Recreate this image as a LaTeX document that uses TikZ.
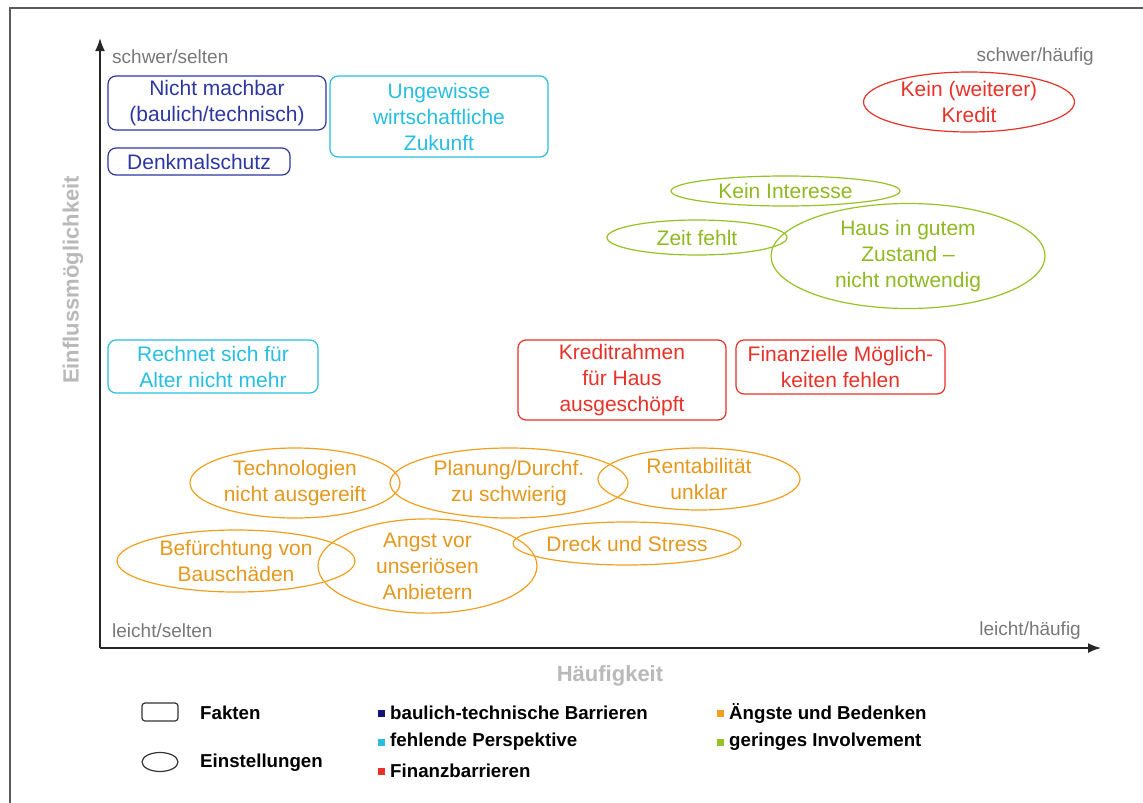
\documentclass[tikz,border=0pt]{standalone}
\usepackage{fontspec}
\setmainfont{Liberation Sans}
\usetikzlibrary{shapes.geometric,arrows.meta}
\definecolor{cnavy}{RGB}{45,55,160}
\definecolor{cnavysq}{RGB}{20,20,120}
\definecolor{ccyan}{RGB}{40,190,225}
\definecolor{cred}{RGB}{230,50,40}
\definecolor{corange}{RGB}{240,160,30}
\definecolor{cgreen}{RGB}{150,195,35}
\definecolor{cgray}{RGB}{120,120,120}
\definecolor{clight}{RGB}{185,185,185}
\definecolor{cframe}{RGB}{90,90,90}
\begin{document}
\begin{tikzpicture}[x=1pt,y=-1pt,
  fact/.style={draw, rounded corners=8pt, line width=1.2pt, align=center, inner sep=0pt,
    font=\fontsize{21}{26}\selectfont},
  attit/.style={draw, ellipse, line width=1.2pt, align=center, inner sep=0pt,
    font=\fontsize{21}{26}\selectfont},
  corner/.style={text=cgray, inner sep=0pt, font=\fontsize{19}{22}\selectfont},
  axlabel/.style={text=clight, inner sep=0pt, font=\fontsize{22}{26}\selectfont\bfseries},
  legtext/.style={anchor=west, inner sep=0pt, font=\fontsize{18.7}{22}\selectfont\bfseries},
  legsq/.style={minimum size=7pt, inner sep=0pt},
  axisline/.style={line width=1.8pt, black!85, -{Latex[length=13pt,width=10pt]}},
  navyc/.style={draw=cnavy, text=cnavy},
  cyanc/.style={draw=ccyan, text=ccyan},
  redc/.style={draw=cred, text=cred},
  orangec/.style={draw=corange, text=corange!95!black},
  greenc/.style={draw=cgreen, text=cgreen!95!black}
]
\useasboundingbox (0,0) rectangle (1143,803);
\fill[white] (0,0) rectangle (1143,803);
\draw[cframe, line width=1.5pt] (10,8) rectangle (1170,830);

% axes
\coordinate (O) at (100,648);
\coordinate (ytop) at (100,38);
\coordinate (xend) at (1101,648);
\draw[axisline] (O) -- (ytop);
\draw[axisline] (O) -- (xend);

% corner labels
\node[corner, anchor=west] (c1) at (112,57) {schwer/selten};
\node[corner, anchor=east] (c2) at (1094,57) {schwer/häufig};
\node[corner, anchor=west] (c3) at (112,631) {leicht/selten};
\node[corner, anchor=east] (c4) at (1081,631) {leicht/häufig};

% axis labels
\node[axlabel, rotate=90] (ylab) at (73,280) {Einflussmöglichkeit};
\node[axlabel] (xlab) at (610,676) {Häufigkeit};

% facts (rounded rectangles)
\node[fact, navyc, minimum width=218pt, minimum height=54pt] (nm) at (217,103) {Nicht machbar\\(baulich/technisch)};
\node[fact, navyc, minimum width=182pt, minimum height=27pt] (dm) at (199,161.5) {Denkmalschutz};
\node[fact, cyanc, minimum width=218pt, minimum height=81pt] (uw) at (439,116.5) {Ungewisse\\wirtschaftliche\\Zukunft};
\node[fact, cyanc, minimum width=210pt, minimum height=53pt] (rs) at (213,366.5) {Rechnet sich für\\Alter nicht mehr};
\node[fact, redc, minimum width=208pt, minimum height=80pt] (kr) at (622,380) {Kreditrahmen\\für Haus\\ausgeschöpft};
\node[fact, redc, minimum width=209pt, minimum height=54pt] (fm) at (840.5,367) {Finanzielle Möglich-\\keiten fehlen};

% attitudes (ellipses)
\node[attit, redc, minimum width=211pt, minimum height=60pt] (kk) at (969,102) {Kein (weiterer)\\Kredit};
\node[attit, greenc, minimum width=229pt, minimum height=30pt] (ki) at (785.5,191) {Kein Interesse};
\node[attit, greenc, minimum width=180pt, minimum height=35pt] (zf) at (697,237.5) {Zeit fehlt};
\node[attit, greenc, minimum width=274pt, minimum height=105pt] (hz) at (908,256) {Haus in gutem\\Zustand --\\nicht notwendig};
\node[attit, orangec, minimum width=210pt, minimum height=70pt] (tn) at (295,483) {Technologien\\nicht ausgereift};
\node[attit, orangec, minimum width=238pt, minimum height=70pt] (pd) at (509,483) {Planung/Durchf.\\zu schwierig};
\node[attit, orangec, minimum width=202pt, minimum height=62pt] (ru) at (699,479) {Rentabilität\\unklar};
\node[attit, orangec, minimum width=238pt, minimum height=62pt] (bb) at (236,561) {Befürchtung von\\Bauschäden};
\node[attit, orangec, minimum width=219pt, minimum height=88pt] (au) at (427.5,566) {Angst vor\\unseriösen\\Anbietern};
\node[attit, orangec, minimum width=220pt, minimum height=43pt] (ds) at (627,543.5) {Dreck und Stress};

% legend
\node[draw, black!80, line width=1.2pt, rounded corners=3pt, minimum width=36pt, minimum height=18pt, inner sep=0pt] (lf) at (160,712) {};
\node[legtext] (lft) at (200,713) {Fakten};
\node[draw, black!80, line width=1.2pt, ellipse, minimum width=36pt, minimum height=19pt, inner sep=0pt] (le) at (160,762) {};
\node[legtext] (let) at (200,763) {Einstellungen};

\node[legsq, fill=cnavysq] (s1) at (381,713) {};
\node[legtext] (t1) at (390,713) {baulich-technische Barrieren};
\node[legsq, fill=ccyan] (s2) at (381,742) {};
\node[legtext] (t2) at (390,742) {fehlende Perspektive};
\node[legsq, fill=cred] (s3) at (381,771) {};
\node[legtext] (t3) at (390,771) {Finanzbarrieren};
\node[legsq, fill=corange] (s4) at (720,713) {};
\node[legtext] (t4) at (729,713) {Ängste und Bedenken};
\node[legsq, fill=cgreen] (s5) at (720,742) {};
\node[legtext] (t5) at (729,742) {geringes Involvement};
\end{tikzpicture}
\end{document}
